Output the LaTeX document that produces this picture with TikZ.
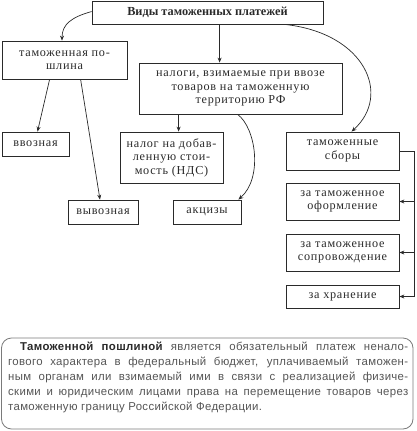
\documentclass[tikz,border=0pt]{standalone}
\usepackage{fontspec}
\setmainfont{Liberation Serif}
\newfontfamily\boxfont[LetterSpace=6]{Liberation Serif}
\newfontfamily\notesans[LetterSpace=3]{Liberation Sans}
\usetikzlibrary{arrows.meta,calc}
\definecolor{ink}{HTML}{2A2A2A}
\definecolor{notegray}{HTML}{555555}
\definecolor{framegray}{HTML}{7A7A7A}
\tikzset{
  box/.style={draw=ink, line width=0.8pt, inner sep=0pt, align=center, text=ink,
    font=\boxfont\fontsize{12.2}{13.5}\selectfont},
  conn/.style={draw=ink, line width=0.7pt, -{Stealth[length=5pt,width=4pt]}},
  plain/.style={draw=ink, line width=0.7pt}
}
\begin{document}
\begin{tikzpicture}[x=1pt,y=-1pt]
\useasboundingbox (0,0) rectangle (416,431);
% boxes
\node[box, minimum width=231pt, minimum height=23pt, font=\rmfamily\bfseries\fontsize{12.3}{13}\selectfont] (top) at (207.5,12.5) {Виды таможенных платежей};
\node[box, minimum width=125pt, minimum height=38pt] (poshl) at (64.5,60) {таможенная по-\\шлина};
\node[box, minimum width=203pt, minimum height=51pt] (nalogi) at (240.5,88.5) {налоги, взимаемые при ввозе\\товаров на таможенную\\территорию РФ};
\node[box, minimum width=67pt, minimum height=24pt] (vvoz) at (35.5,144) {ввозная};
\node[box, minimum width=103pt, minimum height=51pt] (nds) at (171.5,157.5) {налог на добав-\\ленную стои-\\мость (НДС)};
\node[box, minimum width=113pt, minimum height=38pt] (sbory) at (342.5,151) {таможенные\\сборы};
\node[box, minimum width=70pt, minimum height=24pt] (vyvoz) at (103,212) {вывозная};
\node[box, minimum width=68pt, minimum height=24pt] (akciz) at (207,212) {акцизы};
\node[box, minimum width=113pt, minimum height=37pt] (oform) at (342.5,201.5) {за таможенное\\оформление};
\node[box, minimum width=113pt, minimum height=37pt] (soprov) at (342.5,252.5) {за таможенное\\сопровождение};
\node[box, minimum width=113pt, minimum height=23pt] (hran) at (342.5,296.5) {за хранение};
% connector anchor points
\coordinate (tA) at ($(top.south west)!0.54!(top.north west)$);
\coordinate (tB) at ($(top.south west)+(128,0)$);
\coordinate (tC) at ($(top.south west)+(193,0)$);
\coordinate (pA) at ($(poshl.south west)+(48,0)$);
\coordinate (pB) at ($(poshl.south west)+(79,0)$);
\coordinate (nA) at ($(nalogi.south west)+(40,0)$);
\coordinate (nB) at ($(nalogi.south west)+(99,0)$);
\coordinate (br) at ($(sbory.east)+(15,0)$);
% connectors
\draw[conn] (tA) .. controls (72,17) and (62,24) .. (poshl.north -| 62,0);
\draw[conn] (tB) -- (tB |- nalogi.north);
\draw[conn] (tC) .. controls (365,33) and (392,95) .. ($(sbory.north)+(9,0)$);
\draw[conn] (pA) -- ($(vvoz.north)+(2,0)$);
\draw[conn] (pB) -- ($(vyvoz.north)+(-3,0)$);
\draw[conn] (nA) -- (nA |- nds.north);
\draw[conn] (nB) .. controls (256,128) and (263,178) .. ($(akciz.north east)+(-3,0)$);
\draw[plain] (sbory.east) -- (br) -- (br |- hran.east);
\draw[conn] (br |- oform.east) -- (oform.east);
\draw[conn] (br |- soprov.east) -- (soprov.east);
\draw[conn] (br |- hran.east) -- (hran.east);
% note
\draw[draw=framegray, line width=0.8pt, rounded corners=10pt] (1.5,338) rectangle (413,429);
\node[anchor=north west, inner sep=0pt, text width=400pt, text=notegray,
  font=\notesans\fontsize{11.4}{15}\selectfont, align=justify] (note) at (8,341.5)
{\hspace*{12pt}{\bfseries\color{ink}Таможенной пошлиной} является обязательный платеж ненало-\linebreak
гового характера в федеральный бюджет, уплачиваемый таможен-\linebreak
ным органам или взимаемый ими в связи с реализацией физиче-\linebreak
скими и юридическим лицами права на перемещение товаров через\linebreak
таможенную границу Российской Федерации.};
\end{tikzpicture}
\end{document}
